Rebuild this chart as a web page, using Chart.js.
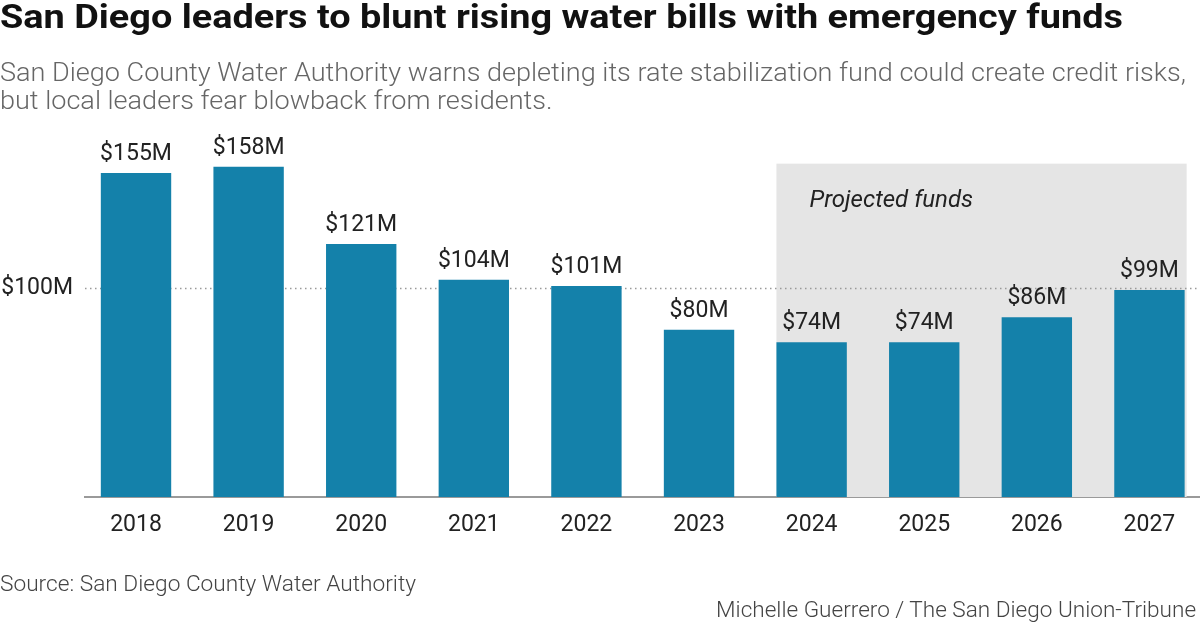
<!DOCTYPE html>
<html>
<head>
<meta charset="utf-8">
<script src="https://cdn.jsdelivr.net/npm/chart.js@4.4.1/dist/chart.umd.min.js"></script>
<style>
  html, body { margin: 0; padding: 0; background: #fff; }
  #wrap { position: relative; width: 1200px; height: 623px; overflow: hidden; font-family: Roboto, "Open Sans", sans-serif; }
  #chart { position: absolute; left: 0; top: 0; }
  .txt { position: absolute; white-space: nowrap; transform-origin: left top; }
  #title { left: 0; top: 0; font-size: 33px; line-height: 33px; font-weight: 700; color: #111; }
  #sub1, #sub2 { left: 0; font-size: 26px; line-height: 26px; font-weight: 300; color: #666; }
  #sub1 { top: 59px; }
  #sub2 { top: 87px; }
  #source { left: 0; top: 573px; font-size: 22px; line-height: 22px; font-weight: 300; color: #444; }
  #credit { right: 4px; top: 599px; font-size: 22px; line-height: 22px; font-weight: 300; color: #444; transform-origin: right top; }
</style>
</head>
<body>
<div id="wrap">
  <canvas id="chart" width="1200" height="623"></canvas>
  <div class="txt" id="title">San Diego leaders to blunt rising water bills with emergency funds</div>
  <div class="txt" id="sub1">San Diego County Water Authority warns depleting its rate stabilization fund could create credit risks,</div>
  <div class="txt" id="sub2">but local leaders fear blowback from residents.</div>
  <div class="txt" id="source">Source: San Diego County Water Authority</div>
  <div class="txt" id="credit">Michelle Guerrero / The San Diego Union-Tribune</div>
</div>
<script>
// ---- data ----
const years = ['2018', '2019', '2020', '2021', '2022', '2023', '2024', '2025', '2026', '2027'];
const fundsMillions = [155, 158, 121, 104, 101, 80, 74, 74, 86, 99];
const valueLabels = ['$155M', '$158M', '$121M', '$104M', '$101M', '$80M', '$74M', '$74M', '$86M', '$99M'];
const yTickValues = [100];
const yTickLabels = ['$100M'];
const projectedStartIndex = 6;
const projectedLabel = 'Projected funds';

// ---- fit text widths ----
function fitWidth(el, target) {
  const w = el.getBoundingClientRect().width;
  const s = target / w;
  el.style.transform = 'scaleX(' + s + ')';
  return s;
}
fitWidth(document.getElementById('title'), 1123);
const s1 = fitWidth(document.getElementById('sub1'), 1186);
document.getElementById('sub2').style.transform = 'scaleX(' + s1 + ')';
fitWidth(document.getElementById('source'), 416);
fitWidth(document.getElementById('credit'), 480);

const BAR = '#1481aa';
const FONT = 'Roboto, "Open Sans", sans-serif';

const decorPlugin = {
  id: 'decor',
  beforeDatasetsDraw(chart) {
    const ctx = chart.ctx;
    const meta = chart.getDatasetMeta(0);
    const y = chart.scales.y;
    const area = chart.chartArea;
    const first = meta.data[projectedStartIndex];
    const last = meta.data[meta.data.length - 1];
    const left = first.x - first.width / 2;
    const right = last.x + last.width / 2 + 2;
    const top = y.getPixelForValue(159.5);
    ctx.save();
    ctx.fillStyle = '#e5e5e5';
    ctx.fillRect(left, top, right - left, area.bottom - top);
    ctx.fillStyle = '#222';
    ctx.font = 'italic 24px ' + FONT;
    ctx.textBaseline = 'alphabetic';
    ctx.textAlign = 'left';
    ctx.fillText(projectedLabel, left + 33, 207);
    // dotted reference line
    ctx.strokeStyle = '#9a9a9a';
    ctx.lineWidth = 1.5;
    ctx.setLineDash([1.5, 3.5]);
    yTickValues.forEach(v => {
      const py = Math.round(y.getPixelForValue(v)) + 0.5;
      ctx.beginPath();
      ctx.moveTo(area.left, py);
      ctx.lineTo(area.right, py);
      ctx.stroke();
    });
    ctx.restore();
  },
  afterDatasetsDraw(chart) {
    const ctx = chart.ctx;
    const meta = chart.getDatasetMeta(0);
    ctx.save();
    ctx.fillStyle = '#222';
    ctx.font = '23px ' + FONT;
    ctx.textAlign = 'center';
    ctx.textBaseline = 'alphabetic';
    meta.data.forEach((bar, i) => {
      ctx.fillText(valueLabels[i], bar.x, bar.y - 13);
    });
    ctx.restore();
  }
};

new Chart(document.getElementById('chart'), {
  type: 'bar',
  data: {
    datasets: [{
      data: fundsMillions.map((v, i) => ({ x: i, y: v })),
      backgroundColor: BAR,
      borderWidth: 0,
      barPercentage: 0.625,
      categoryPercentage: 1
    }]
  },
  options: {
    responsive: false,
    animation: false,
    devicePixelRatio: 1,
    layout: { padding: { top: 79, bottom: 0, left: 0, right: 0 } },
    plugins: { legend: { display: false }, tooltip: { enabled: false } },
    scales: {
      x: {
        type: 'linear',
        offset: false,
        min: -0.453,
        max: 9.449,
        afterFit(scale) { scale.height = 126; },
        grid: { display: false, drawTicks: false, offset: false },
        border: { display: true, color: '#9a9a9a', width: 2 },
        ticks: {
          stepSize: 1,
          includeBounds: false,
          autoSkip: false,
          maxRotation: 0,
          padding: 14,
          color: '#222',
          font: { family: FONT, size: 23 },
          callback: (v) => (Number.isInteger(v) && years[v] !== undefined) ? years[v] : ''
        }
      },
      y: {
        min: 0,
        max: 200,
        afterFit(scale) { scale.width = 85; },
        grid: { display: false, drawTicks: false },
        border: { display: false },
        ticks: {
          stepSize: 100,
          padding: 12,
          color: '#222',
          font: { family: FONT, size: 23 },
          callback: (v) => {
            const k = yTickValues.indexOf(v);
            return k >= 0 ? yTickLabels[k] : '';
          }
        }
      }
    }
  },
  plugins: [decorPlugin]
});
</script>
</body>
</html>
